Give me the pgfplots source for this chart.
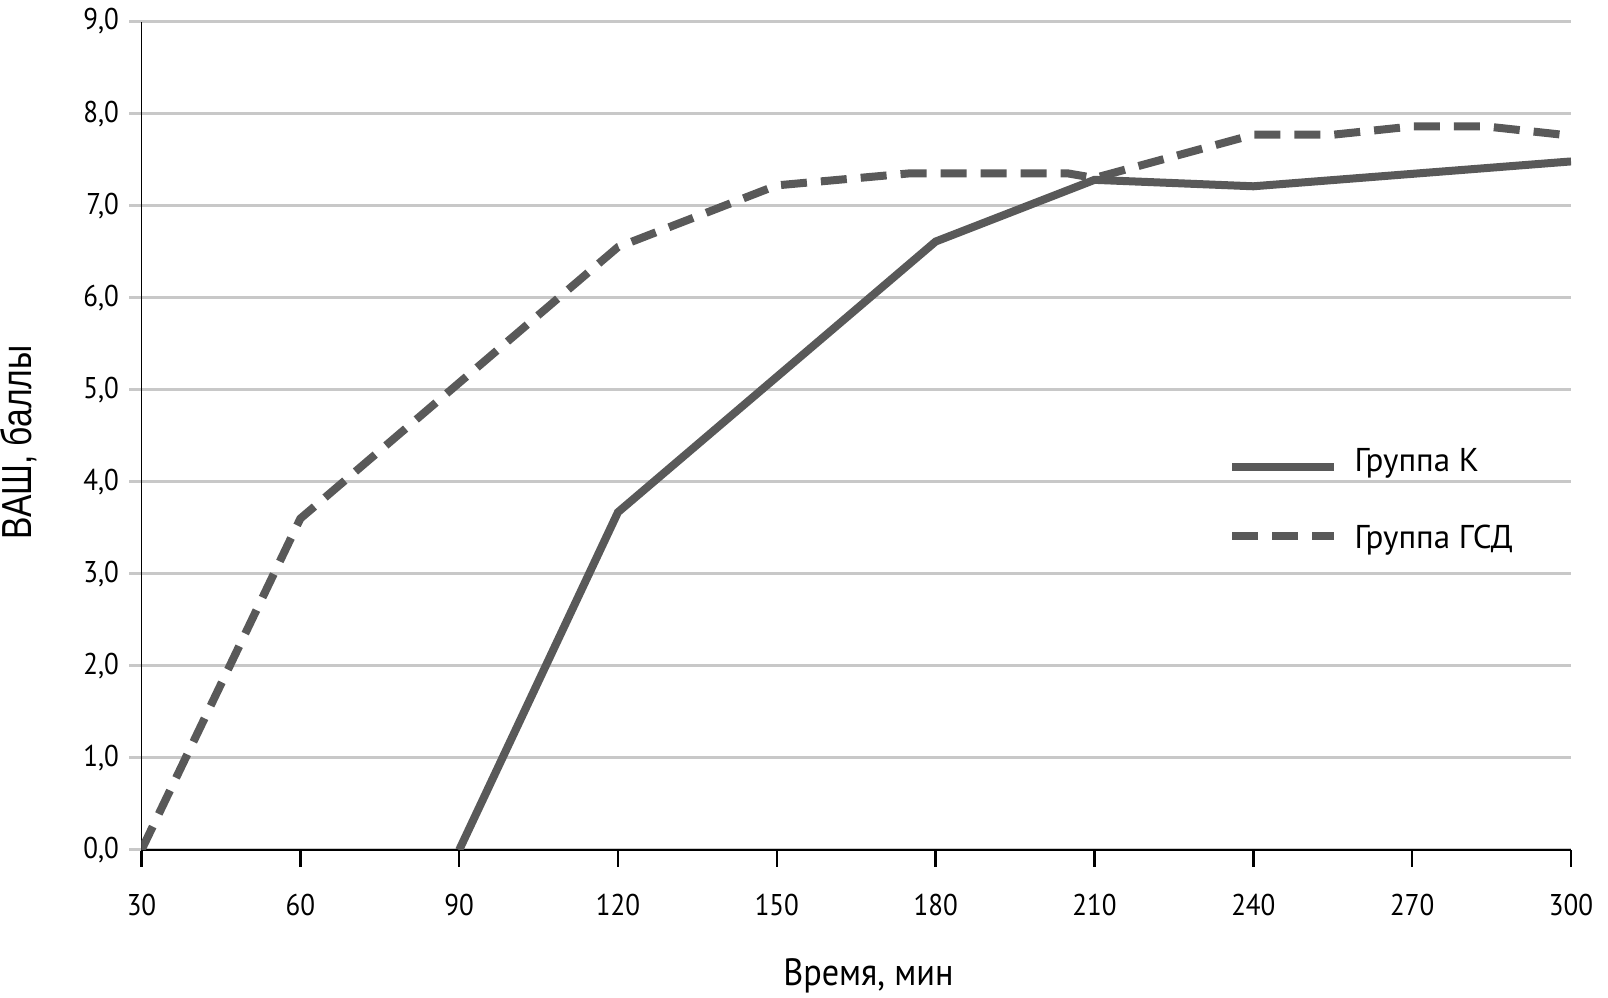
\documentclass[border=0pt]{standalone}
\usepackage{pgfplots}
\pgfplotsset{compat=1.18}
\usepackage{fontspec}
\setmainfont{PT Sans}[FakeStretch=0.9]
\newfontfamily\legfont{PT Sans}
\newfontfamily\ylabfont{Liberation Sans}[FakeStretch=0.8]
\definecolor{linegray}{HTML}{595959}
\definecolor{gridgray}{HTML}{C8C8C8}
\begin{document}
\begin{tikzpicture}
\useasboundingbox (0,0) rectangle (804pt,498.5pt);
\begin{axis}[
  at={(70.75pt,73.5pt)}, anchor=south west,
  scale only axis, width=714.75pt, height=414.25pt,
  xmin=30, xmax=300, ymin=0, ymax=9,
  xtick={30,60,...,300}, ytick={0,1,...,9},
  axis x line=bottom, axis y line=left,
  axis line style={-, black, line width=0.9pt},
  ymajorgrids, grid style={gridgray, line width=1.5pt},
  tick align=outside,
  xtick style={black, line width=1.2pt, /pgfplots/major tick length=8.5pt},
  ytick style={gridgray, line width=1.5pt, /pgfplots/major tick length=6pt},
  /pgf/number format/.cd, use comma, fixed, fixed zerofill, precision=1, assume math mode=true,
  /pgfplots/.cd,
  xticklabel={\pgfmathprintnumber[fixed, precision=0, fixed zerofill=false]{\tick}},
  ticklabel style={font=\fontsize{15}{18}\selectfont},
  xticklabel style={yshift=-14.5pt},
  yticklabel style={xshift=-3.5pt},
  xlabel={Время, мин},
  xlabel style={font=\fontsize{19}{22}\selectfont, at={(axis description cs:0.5085,0)}, anchor=north, yshift=-51pt},
  ylabel={\ylabfont ВАШ, баллы},
  ylabel style={font=\fontsize{21}{24}\selectfont, at={(axis description cs:-0.086,0.492)}, anchor=center},
  legend style={draw=none, fill=none, at={(rel axis cs:0.7558,0.489)}, anchor=north west,
    font=\legfont\fontsize{16.5}{19}\selectfont, row sep=19pt, column sep=8.4pt,
    nodes={inner sep=0pt, text height=11.2pt, text depth=4pt}},
  legend cell align=left,
  legend image code/.code={\draw[#1] (0pt,-1.4pt) -- (50.8pt,-1.4pt);},
]
\addplot[linegray, line width=4pt] coordinates {
  (90,0) (120,3.67) (180,6.61) (210,7.28) (240,7.21) (300,7.48)
};
\addlegendentry{Группа К}
\addplot[linegray, line width=4pt, dash pattern=on 13pt off 7pt] coordinates {
  (30,0) (60,3.6) (120,6.55) (150,7.22) (175,7.35) (205,7.35) (210,7.30)
  (240,7.77) (255,7.77) (270,7.86) (284,7.86) (300,7.76)
};
\addlegendentry{\raisebox{-4.2pt}{Группа ГСД}}
\end{axis}
\end{tikzpicture}
\end{document}
